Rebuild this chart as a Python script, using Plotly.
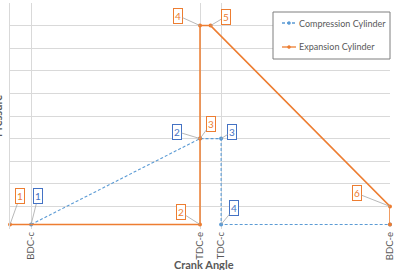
import plotly.graph_objects as go

# ---- data ----
tick_vals = [0, 160, 180, 340]
tick_text = ["BDC-c", "TDC-e", "TDC-c", "BDC-e"]

comp_name = "Compression Cylinder"
comp_x = [0, 160, 180, 180, 340]
comp_y = [0.2, 4, 4, 0.2, 0.2]
comp_labels = ["1", "2", "3", "4", ""]

exp_name = "Expansion Cylinder"
exp_x = [-20, 160, 160, 160, 170, 340, 340]
exp_y = [0.2, 0.2, 4, 9, 9, 1, 0.2]
exp_labels = ["1", "2", "3", "4", "5", "6", ""]

ORANGE = "#ED7D31"
BLUE = "#5B9BD5"
BLUE_TXT = "#4472C4"
FONT = "Lato"
BLUE_DASH = "3px,2px"

# plot area in pixels
L, R, T, B = 10, 390, 3, 229
def px(xp):
    return (xp - L) / (R - L)
def py(yp):
    return 1 - (yp - T) / (B - T)

fig = go.Figure()
fig.add_trace(go.Scatter(x=comp_x, y=comp_y, name=comp_name, mode="lines+markers",
                         line=dict(color=BLUE, width=1.1, dash=BLUE_DASH),
                         marker=dict(color=BLUE, size=4), showlegend=False, cliponaxis=False))
fig.add_trace(go.Scatter(x=exp_x, y=exp_y, name=exp_name, mode="lines+markers",
                         line=dict(color=ORANGE, width=1.5),
                         marker=dict(color=ORANGE, size=4), showlegend=False, cliponaxis=False))

# label offsets (pixels) for the data labels
comp_off = [(7, -28), (-23, -7), (11, -7), (13, -16)]
exp_off = [(10, -28), (-19, -12), (11, -15), (-22, -10), (15, -9), (-33, -13)]

annos = []
def add_labels(xs, ys, labels, offs, col, tcol):
    for x, y, t, (ax, ay) in zip(xs, ys, labels, offs):
        if not t:
            continue
        annos.append(dict(x=x, y=y, xref="x", yref="y", text=t, showarrow=True,
                          arrowhead=0, arrowwidth=0.8, arrowcolor="#A6A6A6",
                          ax=ax, ay=ay, standoff=0, startstandoff=0,
                          bordercolor=col, borderwidth=1, borderpad=1,
                          bgcolor="white", font=dict(family=FONT, size=10, color=tcol)))

add_labels(comp_x, comp_y, comp_labels, comp_off, BLUE_TXT, BLUE_TXT)
add_labels(exp_x, exp_y, exp_labels, exp_off, ORANGE, ORANGE)

annos.append(dict(text="<b>Crank Angle</b>", xref="paper", yref="paper", x=px(204), y=py(264),
                  yanchor="middle", xanchor="center", showarrow=False,
                  font=dict(family=FONT, size=11, color="#595959")))
annos.append(dict(text="<b>Pressure</b>", xref="paper", yref="paper", x=px(-3), y=0.5,
                  yanchor="middle", xanchor="center", showarrow=False, textangle=-90,
                  font=dict(family=FONT, size=11, color="#595959")))

# manual legend
shapes = [dict(type="rect", xref="paper", yref="paper", x0=px(273), x1=px(390),
               y0=py(59), y1=py(12), line=dict(color="#7F7F7F", width=1),
               fillcolor="white", layer="above")]
for name, col, dash, yp in [(comp_name, BLUE, BLUE_DASH, 23), (exp_name, ORANGE, "solid", 47)]:
    shapes.append(dict(type="line", xref="paper", yref="paper", x0=px(282), x1=px(296),
                       y0=py(yp), y1=py(yp), line=dict(color=col, width=1.3, dash=dash),
                       layer="above"))
    shapes.append(dict(type="circle", xref="paper", yref="paper", x0=px(287.5), x1=px(290.5),
                       y0=py(yp + 1.5), y1=py(yp - 1.5), line=dict(color=col, width=0.5),
                       fillcolor=col, layer="above"))
    annos.append(dict(text=name, xref="paper", yref="paper", x=px(297), y=py(yp),
                      xanchor="left", yanchor="middle", showarrow=False,
                      font=dict(family=FONT, size=9, color="#595959")))

fig.update_layout(
    width=394, height=270,
    margin=dict(l=L, r=394 - R, t=T, b=270 - B),
    paper_bgcolor="white", plot_bgcolor="white",
    font=dict(family=FONT, color="#595959"),
    annotations=annos, shapes=shapes, showlegend=False,
    xaxis=dict(range=[-20, 340], tickvals=tick_vals, ticktext=tick_text, tickangle=-90,
               showgrid=True, gridcolor="#D9D9D9", gridwidth=1, zeroline=False,
               showline=False, ticks="", automargin=False, ticklabeloverflow="allow",
               tickfont=dict(family=FONT, size=9.5, color="#595959")),
    yaxis=dict(range=[0, 10], dtick=1, showticklabels=False, showgrid=True,
               gridcolor="#D9D9D9", zeroline=False, showline=True, linecolor="#D9D9D9",
               mirror=False, ticks="", automargin=False),
)

fig.write_html("out.html")
